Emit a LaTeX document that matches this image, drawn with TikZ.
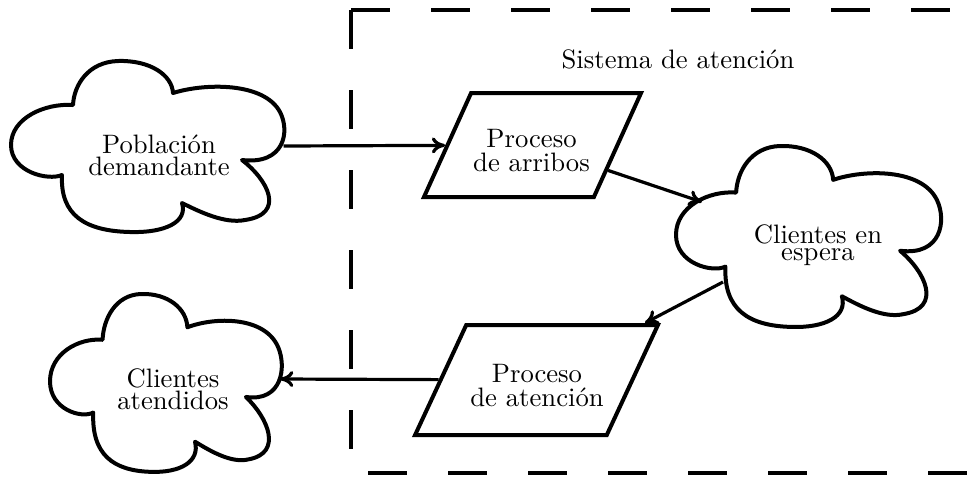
\documentclass[tikz,border=0pt]{standalone}
\usepackage{fontspec}
\usetikzlibrary{shapes.geometric, arrows.meta}
\begin{document}
\begin{tikzpicture}[x=0.375pt, y=-0.375pt,
  cloudline/.style={line width=1.5pt, line join=round},
  conn/.style={line width=1.2pt, -{To[length=5pt,width=6pt]}},
  bound/.style={line width=1.2pt, dash pattern=on 14.6pt off 15.4pt},
  para/.style={draw, line width=1.5pt, shape=trapezium, trapezium stretches=true, inner sep=2pt},
  lbl/.style={align=center, font={\baselineskip=0pt\lineskip=#1\relax}, inner sep=0pt},
  lbl/.default=1pt,
]
\useasboundingbox (0,0) rectangle (972,477);

% system boundary
\coordinate (bTL) at (351,10);
\coordinate (bTR) at (980,10);
\coordinate (bBL) at (351,473);
\coordinate (bBR) at (980,473);
\draw[bound] (bTL) -- (bTR);
\draw[bound] (bTL) -- (bBL) -- (bBR);

% cloud outline (in the pixel frame of the first cloud)
\def\cloudpath{(62,175) .. controls (48,181) and (11,172) .. (11,145)
  .. controls (11,118) and (45,103) .. (73,105)
  .. controls (74,85) and (88,62) .. (118,61)
  .. controls (150,60) and (172,75) .. (173,93)
  .. controls (205,83) and (264,82) .. (280,112)
  .. controls (290,131) and (285,165) .. (242,160)
  .. controls (268,180) and (286,214) .. (245,220)
  .. controls (225,224) and (200,212) .. (182,203)
  .. controls (188,222) and (165,233) .. (130,232)
  .. controls (85,231) and (60,215) .. cycle}

\draw[cloudline] \cloudpath;
\begin{scope}[shift={(676,146)}, xscale=0.97, yscale=1.058, shift={(-11,-61)}]
  \draw[cloudline] \cloudpath;
\end{scope}
\begin{scope}[shift={(50,294)}, xscale=0.848, yscale=1.04, shift={(-11,-61)}]
  \draw[cloudline] \cloudpath;
\end{scope}

% cloud texts
\node[lbl] (pd) at (159,155.5) {Población\\demandante};
\node[lbl=1.7pt] (ce) at (818,245.3) {Clientes en\\espera};
\node[lbl] (ca) at (173,389.3) {Clientes\\atendidos};
\node[lbl] (sys) at (678,59) {Sistema de atención};

% points where connectors meet the clouds
\coordinate (pdE) at (283.5,146);
\coordinate (ceW) at (702,202);
\coordinate (ceS) at (723,282);
\coordinate (caE) at (280,379);

% parallelograms
\node[para, trapezium left angle=69, trapezium right angle=111,
      minimum width=81.4pt, minimum height=39pt] (p1) at (532.5,145) {};
\node[para, trapezium left angle=70, trapezium right angle=110,
      minimum width=91.1pt, minimum height=41.25pt] (p2) at (536.5,380) {};
\node[lbl=1.7pt] (p1t) at (531.5,150.4) {Proceso\\de arribos};
\node[lbl=1.7pt] (p2t) at (537,385.4) {Proceso\\de atención};

% connectors
\draw[conn] (pdE) -- (p1);
\draw[conn] (p1) -- (ceW);
\draw[conn] (ceS) -- (p2);
\draw[conn] (p2) -- (caE);
\end{tikzpicture}
\end{document}
